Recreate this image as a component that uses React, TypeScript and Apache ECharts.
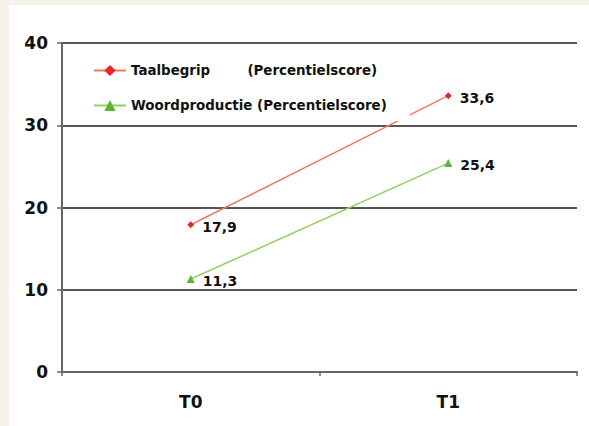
import React, { useEffect, useRef } from "react";
import * as echarts from "echarts";

const categories = ["T0", "T1"];
const taalbegrip = [17.9, 33.6];
const woordproductie = [11.3, 25.4];
const seriesNames = ["Taalbegrip        (Percentielscore)", "Woordproductie (Percentielscore)"];

const FONT = "DejaVu Sans, Liberation Sans, Arial, sans-serif";

export default function App() {
  const ref = useRef<HTMLDivElement>(null);
  useEffect(() => {
    const chart = echarts.init(ref.current!, null, { renderer: "svg" });
    const labelStyle = {
      show: true,
      position: "right" as const,
      distance: 8,
      offset: [0, 2],
      color: "#111",
      fontFamily: FONT,
      fontWeight: "bold" as const,
      fontSize: 14,
      formatter: (p: any) => String(p.value).replace(".", ","),
    };
    chart.setOption({
      animation: false,
      backgroundColor: "#f5f2ea",
      graphic: [
        {
          type: "rect",
          z: -10,
          silent: true,
          shape: { x: 9, y: 5, width: 580, height: 421 },
          style: { fill: "#ffffff" },
        },
      ],
      grid: { left: 62, right: 12, top: 43, bottom: 54, containLabel: false },
      legend: {
        orient: "vertical",
        left: 83,
        top: 54,
        padding: [10, 23, 9, 10],
        backgroundColor: "#ffffff",
        itemWidth: 32,
        itemHeight: 14,
        itemGap: 22,
        textStyle: {
          fontFamily: FONT,
          fontWeight: "bold",
          fontSize: 13.4,
          color: "#111",
        },
        data: seriesNames,
      },
      xAxis: {
        type: "category",
        data: categories,
        boundaryGap: true,
        axisLine: { show: true, lineStyle: { color: "#666", width: 2 } },
        axisTick: { show: true, length: 4, lineStyle: { color: "#666", width: 1.5 } },
        axisLabel: {
          color: "#111",
          fontFamily: FONT,
          fontWeight: "bold",
          fontSize: 17,
          margin: 21,
        },
      },
      yAxis: {
        type: "value",
        min: 0,
        max: 40,
        interval: 10,
        axisLine: { show: true, lineStyle: { color: "#666", width: 2 } },
        axisTick: { show: true, length: 5, lineStyle: { color: "#666", width: 1.5 } },
        splitLine: { show: true, lineStyle: { color: "#555", width: 2 } },
        axisLabel: {
          color: "#111",
          fontFamily: FONT,
          fontWeight: "bold",
          fontSize: 17,
          margin: 14,
        },
      },
      series: [
        {
          name: seriesNames[0],
          type: "line",
          data: taalbegrip,
          symbol: "diamond",
          symbolSize: 7,
          itemStyle: { color: "#e8262b" },
          lineStyle: { color: "#f27a5e", width: 1.5 },
          label: labelStyle,
        },
        {
          name: seriesNames[1],
          type: "line",
          data: woordproductie,
          symbol: "triangle",
          symbolSize: 8,
          itemStyle: { color: "#5cb437" },
          lineStyle: { color: "#95cf63", width: 1.5 },
          label: labelStyle,
        },
      ],
    });
    return () => chart.dispose();
  }, []);
  return (
    <div style={{ position: "fixed", left: 0, top: 0, width: 589, height: 426 }}>
      <div ref={ref} style={{ width: 589, height: 426 }} />
    </div>
  );
}
